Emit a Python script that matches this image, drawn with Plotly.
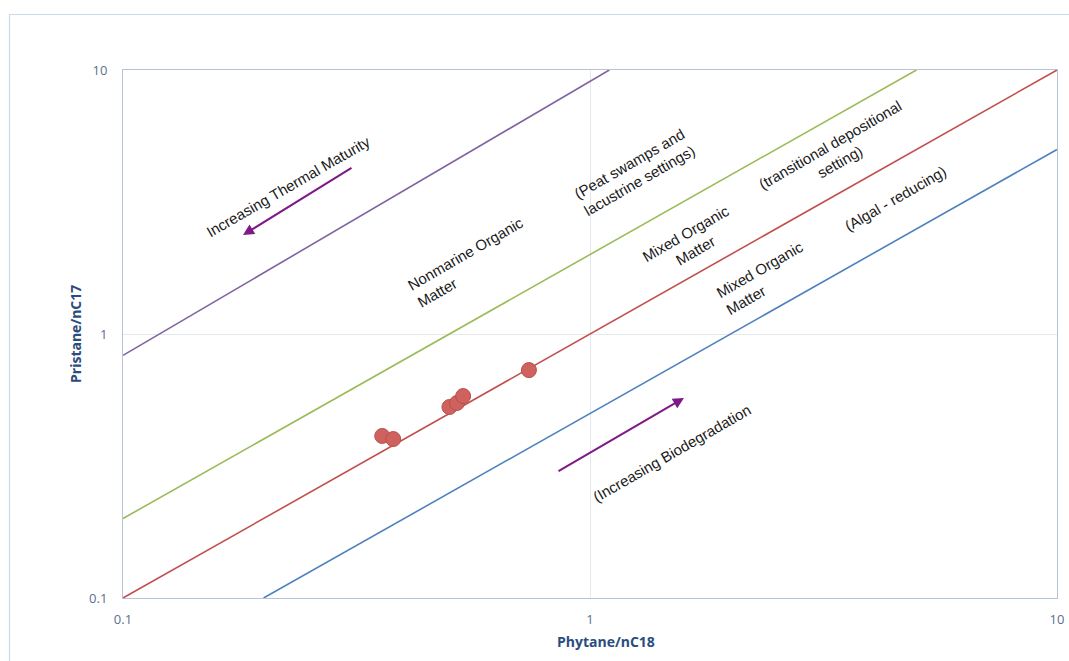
import plotly.graph_objects as go

# Sample measurements
phytane_nc18 = [0.359, 0.379, 0.500, 0.519, 0.535, 0.740]
pristane_nc17 = [0.411, 0.400, 0.529, 0.548, 0.582, 0.730]

# Boundary lines between depositional environments
purple_x, purple_y = [0.1, 1.1], [0.83, 10]
green_x, green_y = [0.1, 5.0], [0.2, 10]
red_x, red_y = [0.1, 10], [0.1, 10]
blue_x, blue_y = [0.2, 10], [0.1, 5.0]

tick_vals = [0.1, 1, 10]
tick_text = ["0.1", "1", "10"]

# Plot-area geometry in pixels (used to place rotated labels)
W, H = 1069, 661
L, R, T, B = 123, 1057, 70, 598


def lx(px):
    return -1 + 2 * (px - L) / (R - L)


def ly(py):
    return -1 + 2 * (B - py) / (B - T)


fig = go.Figure()
for xs, ys, col in [(purple_x, purple_y, "#8064A2"), (green_x, green_y, "#9BBB59"),
                    (red_x, red_y, "#C0504D"), (blue_x, blue_y, "#4F81BD")]:
    fig.add_trace(go.Scatter(x=xs, y=ys, mode="lines", line=dict(color=col, width=1.6),
                             hoverinfo="skip", showlegend=False))

fig.add_trace(go.Scatter(x=phytane_nc18, y=pristane_nc17, mode="markers",
                         marker=dict(size=15, color="#CF625E",
                                     line=dict(color="#B9504C", width=1)),
                         showlegend=False))

labels = [
    ("Increasing Thermal Maturity", 288, 186, "center"),
    ("Nonmarine Organic<br>Matter", 470, 262, "left"),
    ("(Peat swamps and<br>lacustrine settings)", 634, 172, "left"),
    ("Mixed Organic<br>Matter", 690, 242, "center"),
    ("(transitional depositional<br>setting)", 835, 153, "center"),
    ("Mixed Organic<br>Matter", 764, 278, "left"),
    ("(Algal - reducing)", 895, 198, "center"),
    ("(Increasing Biodegradation", 671, 453, "center"),
]
for txt, px, py, al in labels:
    fig.add_annotation(x=lx(px), y=ly(py), xref="x", yref="y", text=txt, showarrow=False,
                       textangle=-30, align=al,
                       font=dict(family="Liberation Sans, Arial", size=15, color="#1A1A1A"))

# Trend arrows
for (x0, y0, x1, y1) in [(353, 167, 243, 235), (557, 472, 684, 398)]:
    fig.add_annotation(x=lx(x1), y=ly(y1), ax=lx(x0), ay=ly(y0), xref="x", yref="y",
                       axref="x", ayref="y", text="", showarrow=True, arrowhead=2,
                       arrowsize=1.1, arrowwidth=2, arrowcolor="#7E1A87")

# Axis titles
fig.add_annotation(x=(606 - L) / (R - L), y=(B - 641) / (B - T), xref="paper", yref="paper",
                   xanchor="center", yanchor="middle",
                   text="<b>Phytane/nC18</b>", showarrow=False,
                   font=dict(family="Open Sans, Lato", size=14, color="#2B4D7E"))
fig.add_annotation(x=(75 - L) / (R - L), y=(B - 334) / (B - T), xref="paper", yref="paper",
                   xanchor="center", yanchor="middle",
                   text="<b>Pristane/nC17</b>", showarrow=False, textangle=-90,
                   font=dict(family="Open Sans, Lato", size=14, color="#2B4D7E"))

# Outer chart border
fig.add_shape(type="rect", xref="paper", yref="paper",
              x0=(9.5 - L) / (R - L), x1=(W + 20 - L) / (R - L),
              y0=(B - (H + 20)) / (B - T), y1=(B - 14.5) / (B - T),
              line=dict(color="#C9DAEE", width=1.2), layer="below")

axis_common = dict(type="log", range=[-1, 1], tickvals=tick_vals, ticktext=tick_text,
                   showgrid=True, gridcolor="#E4E7EC", gridwidth=1,
                   showline=True, linecolor="#B7C4D8", linewidth=1, mirror=True,
                   ticks="", zeroline=False, automargin=False,
                   tickfont=dict(family="Open Sans, Lato", size=13, color="#5B6F8C"))
fig.update_xaxes(**axis_common, ticklabelstandoff=9)
fig.update_yaxes(**axis_common, ticklabelstandoff=12)

fig.update_layout(width=W, height=H, margin=dict(l=L, r=W - R, t=T, b=H - B),
                  plot_bgcolor="white", paper_bgcolor="white", showlegend=False)

fig.write_html("out.html")
